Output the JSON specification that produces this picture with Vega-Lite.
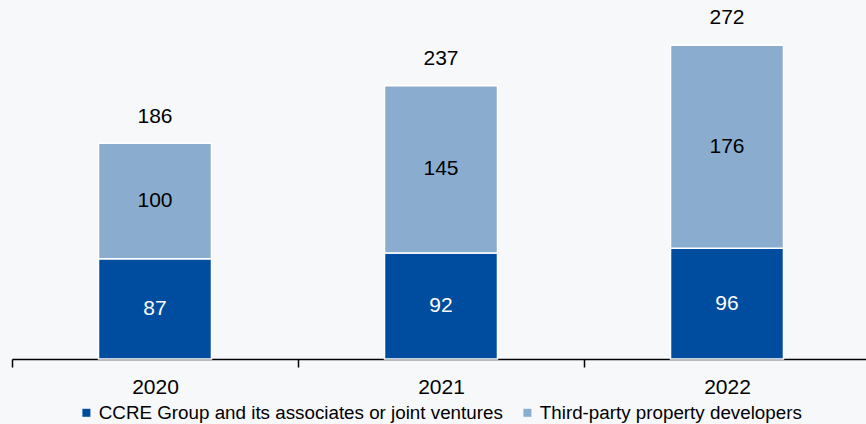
{
  "$schema": "https://vega.github.io/schema/vega-lite/v6.json",
  "autosize": "none",
  "padding": {"left": 12, "top": 13, "right": 0, "bottom": 65},
  "width": 858,
  "height": 346,
  "background": "#f7f8fa",
  "config": {
    "view": {"stroke": null},
    "font": "Liberation Sans"
  },
  "datasets": {
    "segments": [
      {"year": "2020", "series": "CCRE Group and its associates or joint ventures", "value": 87},
      {"year": "2020", "series": "Third-party property developers", "value": 100},
      {"year": "2021", "series": "CCRE Group and its associates or joint ventures", "value": 92},
      {"year": "2021", "series": "Third-party property developers", "value": 145},
      {"year": "2022", "series": "CCRE Group and its associates or joint ventures", "value": 96},
      {"year": "2022", "series": "Third-party property developers", "value": 176}
    ],
    "totals": [
      {"year": "2020", "total": 186},
      {"year": "2021", "total": 237},
      {"year": "2022", "total": 272}
    ]
  },
  "data": {"name": "segments"},
  "encoding": {
    "x": {
      "field": "year",
      "type": "nominal",
      "scale": {"paddingInner": 0, "paddingOuter": 0},
      "axis": {
        "title": null,
        "labelAngle": 0,
        "labelFontSize": 21,
        "labelColor": "#000000",
        "labelPadding": 9,
        "domainColor": "#000000",
        "domainWidth": 1.5,
        "tickColor": "#000000",
        "tickWidth": 1.5,
        "tickSize": 8,
        "tickBand": "extent"
      }
    }
  },
  "layer": [
    {
      "mark": {"type": "bar", "width": {"band": 0.395}, "stroke": "#ffffff", "strokeWidth": 1.5},
      "encoding": {
        "y": {"field": "value", "type": "quantitative", "stack": "zero", "scale": {"domain": [0, 300]}, "axis": null},
        "order": {"field": "series", "sort": "ascending"},
        "color": {
          "field": "series",
          "type": "nominal",
          "scale": {"domain": ["CCRE Group and its associates or joint ventures", "Third-party property developers"], "range": ["#004c9e", "#8aadcf"]},
          "legend": {
            "title": null,
            "orient": "none",
            "direction": "horizontal",
            "legendX": 65,
            "legendY": 390,
            "symbolType": "square",
            "symbolSize": 64,
            "symbolStrokeWidth": 0,
            "labelFontSize": 18.8,
            "labelColor": "#000000",
            "labelLimit": 0,
            "labelOffset": 3,
            "columnPadding": 15,
            "padding": 0
          }
        }
      }
    },
    {
      "mark": {"type": "text", "fontSize": 21, "baseline": "middle", "align": "center"},
      "encoding": {
        "y": {"field": "value", "type": "quantitative", "stack": "zero", "bandPosition": 0.5},
        "detail": {"field": "series"},
        "order": {"field": "series", "sort": "ascending"},
        "text": {"field": "value", "type": "quantitative"},
        "color": {
          "condition": {"test": "datum.series === 'CCRE Group and its associates or joint ventures'", "value": "#ffffff"},
          "value": "#000000"
        }
      }
    },
    {
      "data": {"name": "totals"},
      "mark": {"type": "text", "fontSize": 21, "baseline": "middle", "align": "center", "dy": -27, "color": "#000000"},
      "encoding": {
        "y": {"field": "total", "type": "quantitative"},
        "text": {"field": "total", "type": "quantitative"}
      }
    }
  ]
}
